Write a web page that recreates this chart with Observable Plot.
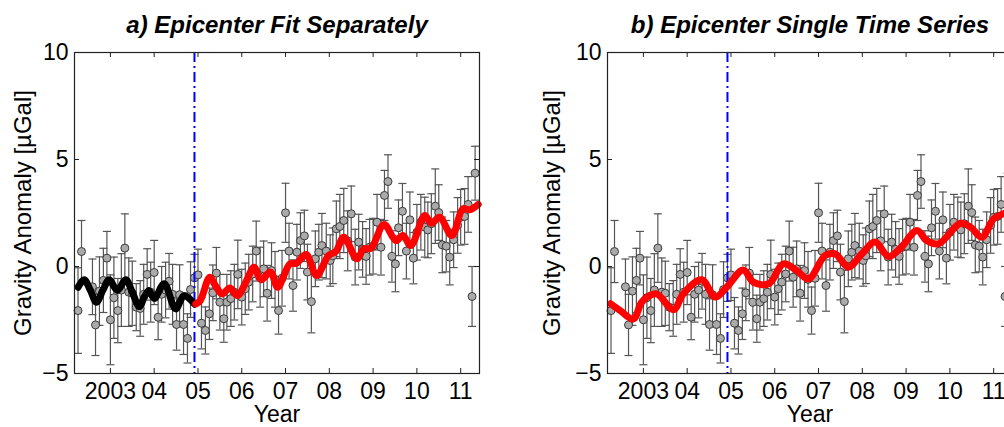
<!DOCTYPE html>
<html>
<head>
<meta charset="utf-8">
<script src="https://cdn.jsdelivr.net/npm/d3@7"></script>
<script src="https://cdn.jsdelivr.net/npm/@observablehq/plot@0.6"></script>
<style>
  html, body { margin: 0; padding: 0; background: #fff; overflow: hidden; }
  #wrap { position: relative; width: 1004px; height: 427px; overflow: hidden; }
  #panelA, #panelB { position: absolute; top: 0; }
  #panelA { left: 0; width: 500px; }
  #panelB { left: 500px; width: 530px; }
  #wrap svg { max-width: none !important; }
</style>
</head>
<body>
<div id="wrap"><div id="panelA"></div><div id="panelB"></div></div>
<script>
// Monthly gravity anomaly at the epicenter (µGal) with 1-sigma uncertainties
const obsYear = [
  2002.26, 2002.34, 2002.59, 2002.66, 2002.75, 2002.84, 2002.92, 2003.00, 2003.08, 2003.17,
  2003.25, 2003.33, 2003.42, 2003.50, 2003.59, 2003.68, 2003.76, 2003.84, 2003.92, 2004.00,
  2004.09, 2004.17, 2004.26, 2004.34, 2004.42, 2004.51, 2004.58, 2004.67, 2004.76, 2004.83,
  2004.92, 2005.00, 2005.08, 2005.17, 2005.26, 2005.34, 2005.42, 2005.50, 2005.59, 2005.66,
  2005.75, 2005.83, 2005.91, 2006.00, 2006.08, 2006.16, 2006.25, 2006.33, 2006.42, 2006.50,
  2006.58, 2006.68, 2006.76, 2006.84, 2006.92, 2007.00, 2007.08, 2007.17, 2007.26, 2007.34,
  2007.43, 2007.50, 2007.59, 2007.68, 2007.76, 2007.83, 2007.93, 2008.02, 2008.08, 2008.16,
  2008.24, 2008.33, 2008.42, 2008.50, 2008.59, 2008.67, 2008.76, 2008.84, 2008.92, 2009.00,
  2009.09, 2009.18, 2009.26, 2009.34, 2009.43, 2009.51, 2009.58, 2009.67, 2009.76, 2009.84,
  2009.92, 2010.00, 2010.09, 2010.18, 2010.25, 2010.33, 2010.42, 2010.50, 2010.58, 2010.67,
  2010.75, 2010.84, 2010.93, 2011.00, 2011.09, 2011.17, 2011.26, 2011.33
];
const obsGravity = [
  -2.06, 0.70, -0.95, -2.73, -1.15, -0.65, 0.39, -2.49, -1.46, -2.06,
  -1.10, 0.86, -1.20, -1.25, -1.90, -1.96, -1.30, -0.37, -1.20, -0.28,
  -2.37, -1.30, -1.10, -0.69, -1.30, -2.71, -1.32, -2.71, -3.36, -1.08,
  -0.53, -0.39, -2.65, -2.99, -2.21, -1.23, -0.31, -1.67, -2.44, -1.67,
  -1.50, -1.20, -0.37, -1.43, -1.04, -0.73, -0.35, 0.72, -0.50, -0.11,
  -1.25, -0.19, -0.60, -2.06, -0.55, 2.51, 0.72, -0.89, 0.67, 1.21,
  1.43, -0.26, -1.64, 0.36, 0.67, 0.98, 0.72, 0.28, 0.50, 1.76,
  1.87, 2.15, 1.20, 2.46, 0.44, 1.14, 0.80, 0.47, 0.90, 0.95,
  2.07, 0.90, 3.32, 3.97, 0.47, 0.12, 1.81, 2.58, 0.72, 2.18,
  0.39, 1.60, 2.07, 1.84, 1.71, 2.00, 2.82, 2.52, 1.01, 0.95,
  0.44, 1.25, 1.92, 2.30, 2.34, 2.90, -1.40, 4.36
];
const obsError = [
  2.00, 1.45, 1.30, 1.43, 1.60, 1.50, 1.25, 2.10, 1.90, 1.50,
  1.70, 1.60, 1.60, 1.50, 1.10, 1.30, 1.40, 1.20, 1.40, 1.50,
  1.05, 1.30, 1.30, 1.30, 1.40, 1.20, 1.40, 1.40, 1.15, 1.30,
  1.10, 1.20, 1.20, 1.10, 1.20, 1.30, 1.20, 1.30, 1.10, 1.30,
  1.30, 1.30, 1.60, 1.30, 1.20, 1.30, 1.30, 1.40, 1.40, 1.30,
  1.30, 1.30, 1.30, 1.10, 1.30, 1.38, 1.30, 1.20, 1.30, 1.30,
  1.20, 1.30, 1.46, 1.30, 1.30, 1.50, 1.30, 1.20, 1.30, 1.30,
  1.50, 1.50, 1.40, 1.30, 1.30, 1.30, 1.30, 1.30, 1.30, 1.30,
  1.30, 1.30, 1.17, 1.25, 1.20, 1.30, 1.30, 1.30, 1.30, 1.30,
  1.20, 1.30, 1.30, 1.40, 1.30, 1.40, 1.74, 1.30, 1.30, 1.20,
  1.30, 1.30, 1.30, 1.30, 1.30, 1.30, 1.40, 1.26
];

// Time of the Sumatra-Andaman earthquake (decimal year)
const quakeYear = 2004.92;

// Model fit before the earthquake (panel a)
const preFitYear = [2002.26, 2002.40, 2002.54, 2002.68, 2002.83, 2002.97, 2003.16, 2003.35, 2003.50, 2003.66,
  2003.78, 2003.88, 2004.00, 2004.23, 2004.49, 2004.68, 2004.92];
const preFitGravity = [-0.97, -0.62, -1.10, -1.67, -1.10, -0.62, -1.12, -0.62, -1.20, -1.87,
  -1.40, -1.12, -1.50, -0.81, -1.98, -1.36, -1.75];

// Model fit after the earthquake (panel a)
const postFitYear = [2004.95, 2005.05, 2005.27, 2005.40, 2005.55, 2005.73, 2005.90, 2006.10, 2006.28, 2006.44,
  2006.66, 2006.82, 2007.10, 2007.25, 2007.47, 2007.71, 2007.98, 2008.15, 2008.33, 2008.63,
  2008.79, 2008.95, 2009.25, 2009.52, 2009.68, 2009.86, 2010.18, 2010.33, 2010.52, 2010.80,
  2011.05, 2011.20, 2011.40];
const postFitGravity = [-1.75, -1.60, -0.50, -0.90, -1.28, -1.00, -1.36, -0.70, -0.03, -0.62,
  -0.26, -0.97, 0.12, 0.15, 0.56, -0.42, 0.51, 0.70, 1.37, 0.36,
  0.83, 0.85, 1.96, 1.21, 1.45, 0.98, 2.38, 2.02, 2.30, 1.45,
  2.70, 2.65, 2.90];

// Single model fit over the whole record (panel b)
const singleFitYear = [2002.25, 2002.47, 2002.77, 2002.95, 2003.08, 2003.30, 2003.69, 2003.91, 2004.33, 2004.64,
  2004.90, 2005.28, 2005.51, 2005.86, 2006.20, 2006.50, 2006.77, 2007.15, 2007.38, 2007.68,
  2007.99, 2008.29, 2008.60, 2008.86, 2009.25, 2009.47, 2009.74, 2010.24, 2010.47, 2010.73,
  2011.00, 2011.22, 2011.43];
const singleFitGravity = [-1.74, -2.06, -2.45, -1.70, -1.43, -1.28, -2.02, -1.28, -0.62, -1.43,
  -0.97, -0.16, -0.73, -0.81, 0.12, -0.19, -0.58, 0.51, 0.59, -0.03,
  0.59, 1.14, 0.47, 0.83, 1.68, 1.21, 1.06, 2.02, 1.84, 1.37,
  2.23, 2.46, 2.60];

const xTicks = [2003, 2004, 2005, 2006, 2007, 2008, 2009, 2010, 2011];
const xTickLabels = ["2003", "04", "05", "06", "07", "08", "09", "10", "11"];
const yTicks = [-5, 0, 5, 10];

const obs = obsYear.map((year, i) => ({year, g: obsGravity[i], e: obsError[i]}));
const zip = (xs, ys) => xs.map((year, i) => ({year, g: ys[i]}));
const preFit = zip(preFitYear, preFitGravity);
const postFit = zip(postFitYear, postFitGravity);
const singleFit = zip(singleFitYear, singleFitGravity);
const xLabel = new Map(xTicks.map((t, i) => [t, xTickLabels[i]]));

// Horizontal cap drawn at the ends of each error bar
const capSymbol = {
  draw(ctx, size) {
    const w = Math.sqrt(size / Math.PI);
    ctx.moveTo(-w, 0);
    ctx.lineTo(w, 0);
  }
};

const FONT = "'Liberation Sans', Arial, Helvetica, sans-serif";

function panel({title, fits, width, marginLeft, marginRight, yLabelDx}) {
  const height = 427, marginTop = 52, marginBottom = 54;
  const innerW = width - marginLeft - marginRight;
  const innerH = height - marginTop - marginBottom;
  const tick = 5;
  const ink = "#222";
  return Plot.plot({
    width, height, marginLeft, marginRight, marginTop, marginBottom,
    style: {fontFamily: FONT, background: "white", overflow: "visible", color: "black", maxWidth: "none"},
    x: {domain: [2002.18, 2011.43]},
    y: {domain: [-5, 10]},
    marks: [
      Plot.ruleX(obs, {x: "year", y1: d => d.g - d.e, y2: d => d.g + d.e, stroke: "#555", strokeWidth: 1.2}),
      Plot.dot(obs, {x: "year", y: d => d.g - d.e, symbol: capSymbol, r: 4, stroke: "#555", fill: "none", strokeWidth: 1.2}),
      Plot.dot(obs, {x: "year", y: d => d.g + d.e, symbol: capSymbol, r: 4, stroke: "#555", fill: "none", strokeWidth: 1.2}),
      Plot.dot(obs, {x: "year", y: "g", r: 4, fill: "#aaaaaa", stroke: "#3a3a3a", strokeWidth: 1}),
      Plot.ruleX([quakeYear], {stroke: "#0000ff", strokeWidth: 2, strokeDasharray: "10,4,2,4"}),
      ...fits.map(f => Plot.line(f.data, {x: "year", y: "g", stroke: f.color, strokeWidth: 7, curve: "catmull-rom"})),
      Plot.frame({stroke: ink, strokeWidth: 1.2}),
      Plot.tickX(xTicks, {insetTop: innerH - tick, stroke: ink}),
      Plot.tickX(xTicks, {insetBottom: innerH - tick, stroke: ink}),
      Plot.tickY(yTicks, {insetLeft: innerW - tick, stroke: ink}),
      Plot.tickY(yTicks, {insetRight: innerW - tick, stroke: ink}),
      Plot.axisX(xTicks, {tickSize: 0, tickPadding: 9, fontSize: 23, tickFormat: d => xLabel.get(d), label: null}),
      Plot.axisY(yTicks, {tickSize: 0, tickPadding: 6, fontSize: 23, label: null}),
      Plot.text([title], {frameAnchor: "top", lineAnchor: "middle", dy: -27, fontSize: 24, fontWeight: "bold", fontStyle: "italic"}),
      Plot.text(["Year"], {frameAnchor: "bottom", lineAnchor: "middle", dy: 41, fontSize: 23}),
      Plot.text(["Gravity Anomaly [µGal]"], {frameAnchor: "left", textAnchor: "middle", lineAnchor: "middle", dx: yLabelDx, rotate: -90, fontSize: 24})
    ]
  });
}

document.getElementById("panelA").append(panel({
  title: "a) Epicenter Fit Separately",
  fits: [{data: preFit, color: "#000000"}, {data: postFit, color: "#ff0000"}],
  width: 500, marginLeft: 74, marginRight: 21, yLabelDx: -51
}));
document.getElementById("panelB").append(panel({
  title: "b) Epicenter Single Time Series",
  fits: [{data: singleFit, color: "#ff0000"}],
  width: 530, marginLeft: 107, marginRight: 18, yLabelDx: -55
}));
</script>
</body>
</html>
